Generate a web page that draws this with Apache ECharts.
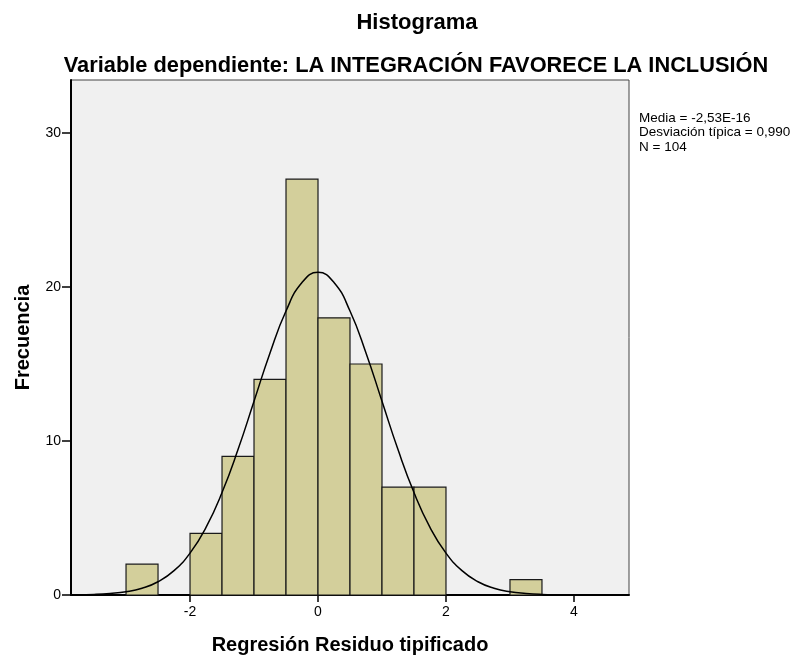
<!DOCTYPE html>
<html>
<head>
<meta charset="utf-8">
<script src="https://cdn.jsdelivr.net/npm/echarts@6/dist/echarts.min.js"></script>
<style>
  html, body { margin: 0; padding: 0; background: #fff; }
  #main { width: 805px; height: 656px; }
</style>
</head>
<body>
<div id="main"></div>
<script>
// histogram bins (Regresión Residuo tipificado) and their counts
var binStart = [-3, -2, -1.5, -1, -0.5, 0, 0.5, 1, 1.5, 3];
var binEnd   = [-2.5, -1.5, -1, -0.5, 0, 0.5, 1, 1.5, 2, 3.5];
var counts   = [2, 4, 9, 14, 27, 18, 15, 7, 7, 1];

// normal curve
var curveX = [-3.75, -3.5, -3.25, -3, -2.75, -2.5, -2.25, -2, -1.75, -1.5, -1.25, -1, -0.75, -0.5, -0.25,
              0, 0.25, 0.5, 0.75, 1, 1.25, 1.5, 1.75, 2, 2.25, 2.5, 2.75, 3, 3.25, 3.5, 3.75, 4, 4.25, 4.5, 4.75];
var curveY = [0.02, 0.04, 0.1, 0.21, 0.44, 0.86, 1.58, 2.72, 4.39, 6.65, 9.44, 12.58, 15.72, 18.44, 20.29,
              20.95, 20.29, 18.44, 15.72, 12.58, 9.44, 6.65, 4.39, 2.72, 1.58, 0.86, 0.44, 0.21, 0.1, 0.04, 0.02, 0.01, 0, 0, 0];

var xTicks = [-2, 0, 2, 4];
var yTicks = [0, 10, 20, 30];

var statsLines = ['Media = -2,53E-16', 'Desviación típica = 0,990', 'N = 104'];

var barData = binStart.map(function (s, i) { return [s, binEnd[i], counts[i]]; });
var curveData = curveX.map(function (x, i) { return [x, curveY[i]]; });

var font = 'Arial, "Liberation Sans", sans-serif';

var chart = echarts.init(document.getElementById('main'));
var option = {
    backgroundColor: '#fff',
    animation: false,
    graphic: [
        {
            type: 'text', x: 417, y: 23,
            style: {
                text: 'Histograma', align: 'center', verticalAlign: 'middle',
                fontFamily: font, fontSize: 22, fontWeight: 'bold', fill: '#000'
            }
        },
        {
            type: 'text', x: 416, y: 66,
            style: {
                text: 'Variable dependiente: LA INTEGRACIÓN FAVORECE LA INCLUSIÓN', align: 'center', verticalAlign: 'middle',
                fontFamily: font, fontSize: 21.8, fontWeight: 'bold', fill: '#000'
            }
        },
        {
            type: 'text', x: 639, y: 111,
            style: {
                text: statsLines.join('\n'),
                fontFamily: font, fontSize: 13.5, lineHeight: 14.5, fill: '#000'
            }
        }
    ],
    grid: {
        left: 71, top: 80, width: 558, height: 515,
        outerBoundsMode: 'none',
        show: true, backgroundColor: '#f0f0f0', borderColor: '#444', borderWidth: 1
    },
    xAxis: {
        type: 'value',
        min: -3.86, max: 4.86,
        name: 'Regresión Residuo tipificado',
        nameLocation: 'middle', nameGap: 40,
        nameTextStyle: { fontFamily: font, fontSize: 20, fontWeight: 'bold', color: '#000' },
        splitLine: { show: false },
        axisLine: { onZero: false, lineStyle: { color: '#000', width: 2 } },
        axisTick: { length: 7, customValues: xTicks, lineStyle: { color: '#000', width: 1.5 } },
        axisLabel: { customValues: xTicks, fontFamily: font, fontSize: 14, color: '#000', margin: 10 }
    },
    yAxis: {
        type: 'value',
        min: 0, max: 33.44,
        name: 'Frecuencia',
        nameLocation: 'middle', nameGap: 38,
        nameTextStyle: { fontFamily: font, fontSize: 20, fontWeight: 'bold', color: '#000' },
        splitLine: { show: false },
        axisLine: { show: true, onZero: false, lineStyle: { color: '#000', width: 2 } },
        axisTick: { show: true, length: 9, customValues: yTicks, lineStyle: { color: '#000', width: 1.5 } },
        axisLabel: { customValues: yTicks, fontFamily: font, fontSize: 14, color: '#000', margin: 10 }
    },
    series: [
        {
            type: 'custom',
            data: barData,
            encode: { x: [0, 1], y: 2 },
            renderItem: function (params, api) {
                var p0 = api.coord([api.value(0), api.value(2)]);
                var p1 = api.coord([api.value(1), 0]);
                return {
                    type: 'rect',
                    shape: { x: p0[0], y: p0[1], width: p1[0] - p0[0], height: p1[1] - p0[1] },
                    style: { fill: '#d3cf9b', stroke: '#1a1a1a', lineWidth: 1.2 }
                };
            },
            z: 2
        },
        {
            type: 'line',
            data: curveData,
            smooth: true,
            showSymbol: false,
            lineStyle: { color: '#000', width: 1.5 },
            z: 3
        }
    ]
};
chart.setOption(option);
</script>
</body>
</html>
